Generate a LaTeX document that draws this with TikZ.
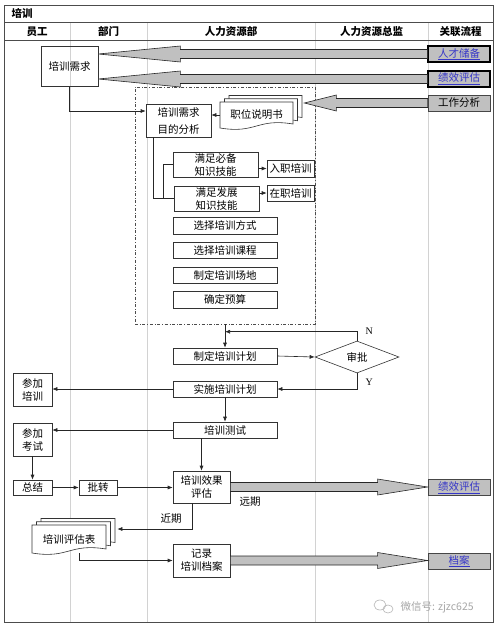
\documentclass[tikz,border=0pt]{standalone}
\usepackage{fontspec}
\setmainfont{Noto Sans CJK SC}
\newfontfamily\latinserif{Liberation Serif}
\usetikzlibrary{arrows.meta,calc,shapes.geometric}

\definecolor{relgray}{HTML}{C0C0C0}
\definecolor{linkblue}{HTML}{3535C8}

\tikzset{
    lane/.style={draw=gray!35, line width=0.6pt},
    frame/.style={draw=black!70, line width=0.7pt},
    stepbox/.style={draw=black!80, fill=white, line width=0.6pt, inner sep=0pt, align=center,
        font=\fontsize{10.5}{13}\selectfont},
    relbox/.style={stepbox, fill=relgray, draw=gray!55!black, line width=0.9pt,
        minimum width=62, minimum height=16},
    linkbox/.style={relbox, text=linkblue},
    flow/.style={draw=black!85, line width=0.6pt, -{Latex[length=5pt,width=4pt]}},
    plain/.style={draw=black!85, line width=0.6pt},
    fatarr/.style={fill=relgray, draw=gray!30!black, line width=0.6pt},
    docpage/.style={draw=black!80, fill=white, line width=0.6pt},
    hdr/.style={font=\bfseries\fontsize{10.5}{12}\selectfont},
    lbl/.style={font=\fontsize{10.5}{12}\selectfont},
    yn/.style={font=\latinserif\fontsize{10}{12}\selectfont},
}

\newcommand{\fatarrow}[3]{%
    \draw[fatarr] ($(#1)+(0,-4.5)$) -- ($(#2)+(#3,-4.5)$) -- ($(#2)+(#3,-8)$) -- (#2)
        -- ($(#2)+(#3,8)$) -- ($(#2)+(#3,4.5)$) -- ($(#1)+(0,4.5)$) -- cycle;}

\newcommand{\docstack}[4]{%
    \foreach \dx/\dy in {9/-6.5,4.5/-3.25,0/0}
        \draw[docpage] ({#1-#3/2+\dx},{#2-#4/2+\dy}) -- ({#1+#3/2+\dx},{#2-#4/2+\dy})
            -- ({#1+#3/2+\dx},{#2+#4/2+\dy-4})
            .. controls ({#1+\dx},{#2+#4/2+\dy-10}) and ({#1+\dx},{#2+#4/2+\dy+6})
            .. ({#1-#3/2+\dx},{#2+#4/2+\dy}) -- cycle;}

\begin{document}
\begin{tikzpicture}[x=1pt, y=-1pt]
    \useasboundingbox (0,0) rectangle (499,629);
    \foreach \x in {70,147,315,428}
        \draw[lane] (\x,22.5) -- (\x,622);
    \draw[frame] (4,5) rectangle (493,622);
    \draw[frame] (4,22.5) -- (493,22.5);
    \draw[frame] (4,40.5) -- (493,40.5);

    \node[hdr, anchor=west] (title) at (8,13.5) {培训};
    \node[hdr] (h1) at (37,31.5) {员工};
    \node[hdr] (h2) at (108.5,31.5) {部门};
    \node[hdr] (h3) at (231,31.5) {人力资源部};
    \node[hdr] (h4) at (371.5,31.5) {人力资源总监};
    \node[hdr] (h5) at (460.5,31.5) {关联流程};

    \node[draw=black!70, dash dot, line width=0.6pt, inner sep=0pt,
        minimum width=180, minimum height=237] (hrarea) at (225,205.5) {};

    \node[stepbox, fill=none, minimum width=57, minimum height=40] (need) at (69.5,66.5) {培训需求};
    \node[linkbox, draw=black, line width=1.3pt] (rel1) at (459,54) {\underline{人才储备}};
    \node[linkbox, draw=black, line width=1.3pt] (rel2) at (459,79) {\underline{绩效评估}};
    \node[relbox] (rel3) at (459,103) {工作分析};
    \node[linkbox] (rel4) at (459,487.5) {\underline{绩效评估}};
    \node[linkbox] (rel5) at (459,561) {\underline{档案}};

    \node[stepbox, minimum width=65, minimum height=33] (goal) at (178.5,120.5) {培训需求\\[4pt]目的分析};
    \docstack{256.5}{115}{73}{26}
    \node[stepbox, draw=none, fill=none, minimum width=73, minimum height=26] (jobdoc) at (256.5,115) {职位说明书};
    \node[stepbox, minimum width=85, minimum height=25] (must) at (215.5,164.5) {满足必备\\知识技能};
    \node[stepbox, minimum width=47, minimum height=17] (entry) at (290.5,168.5) {入职培训};
    \node[stepbox, minimum width=85, minimum height=25] (dev) at (216.5,198.5) {满足发展\\知识技能};
    \node[stepbox, minimum width=47, minimum height=16] (onjob) at (290.5,193) {在职培训};
    \node[stepbox, minimum width=104, minimum height=17] (way) at (225,225.5) {选择培训方式};
    \node[stepbox, minimum width=104, minimum height=16] (course) at (225,250) {选择培训课程};
    \node[stepbox, minimum width=104, minimum height=16] (site) at (225,275) {制定培训场地};
    \node[stepbox, minimum width=104, minimum height=17] (budget) at (225,299.5) {确定预算};

    \node[stepbox, minimum width=104, minimum height=16] (plan) at (225,356) {制定培训计划};
    \node[stepbox, diamond, minimum width=84, minimum height=32] (audit) at (357,357) {审批};
    \node[stepbox, minimum width=104, minimum height=16] (exec) at (225,389) {实施培训计划};
    \node[stepbox, minimum width=39, minimum height=33] (attend) at (32.5,389.5) {参加\\培训};
    \node[stepbox, minimum width=104, minimum height=16] (test) at (225,430) {培训测试};
    \node[stepbox, minimum width=39, minimum height=33] (exam) at (32.5,439.5) {参加\\考试};
    \node[stepbox, minimum width=39, minimum height=15] (sum) at (32.5,487.5) {总结};
    \node[stepbox, minimum width=38, minimum height=15] (forward) at (98,487.5) {批转};
    \node[stepbox, minimum width=57, minimum height=32] (eval) at (201.5,487) {培训效果\\评估};
    \docstack{69}{539}{74}{28}
    \node[stepbox, draw=none, fill=none, minimum width=74, minimum height=28] (evaldoc) at (69,539) {培训评估表};
    \node[stepbox, minimum width=57, minimum height=33] (record) at (201.5,560.5) {记录\\培训档案};

    \coordinate (t1) at (need.east |- rel1.west);
    \coordinate (t2) at (need.east |- rel2.west);
    \coordinate (t3a) at ($(jobdoc.east)+(11,0)$);
    \coordinate (t3) at (t3a |- rel3.west);
    \coordinate (t4) at (rel4.west |- eval.east);
    \coordinate (t5) at (rel5.west |- record.east);
    \fatarrow{rel1.west}{t1}{82}
    \fatarrow{rel2.west}{t2}{82}
    \fatarrow{rel3.west}{t3}{32}
    \fatarrow{eval.east}{t4}{-50}
    \fatarrow{record.east}{t5}{-50}

    \draw[flow] (need.south) |- ($(goal.west)+(0,-9.5)$);
    \draw[flow] (jobdoc.west) -- (jobdoc.west -| goal.east);
    \draw[plain] ($(goal.south west)+(8,0)$) |- (dev.west);
    \draw[plain] ($(dev.west)+(-10,0)$) |- (must.west);
    \draw[flow] (must.east |- entry.west) -- (entry.west);
    \draw[flow] (dev.east |- onjob.west) -- (onjob.west);

    \draw[flow] (hrarea.south -| plan.north) -- (plan.north);
    \draw[flow] (plan.east) -- (audit.west);
    \draw[flow] (audit.north) |- ($(plan.north)+(0,-16)$);
    \draw[flow] (audit.south) |- (exec.east);
    \node[yn, anchor=west] (no) at ($(audit.north)+(5,-9)$) {N};
    \node[yn, anchor=west] (yes) at ($(audit.south)+(5,9)$) {Y};
    \draw[flow] (exec.west) -- (exec.west -| attend.east);
    \draw[flow] (exec.south) -- (test.north);
    \draw[flow] (test.west) -- (test.west -| exam.east);
    \draw[flow] (exam.south) -- (sum.north);
    \draw[flow] (test.south -| eval.north) -- (eval.north);
    \draw[flow] (sum.east) -- (forward.west);
    \draw[flow] (forward.east) -- (forward.east -| eval.west);

    \coordinate (evalin) at ($(evaldoc.east)+(11,-10)$);
    \draw[flow] ($(eval.south)+(-9,0)$) |- (evalin);
    \node[lbl] (near) at (171,519) {近期};
    \node[lbl] (far) at (250,502) {远期};
    \draw[flow] ($(evaldoc.south)+(10,0)$) |- (record.west);

    \draw[gray!60, line width=0.6pt] (380,605) ellipse (6pt and 5pt);
    \draw[gray!60, line width=0.6pt] (388,609) ellipse (5pt and 4pt);
    \node[lbl, text=gray!70, anchor=west] (mark) at (397,607) {微信号: zjzc625};
\end{tikzpicture}
\end{document}
